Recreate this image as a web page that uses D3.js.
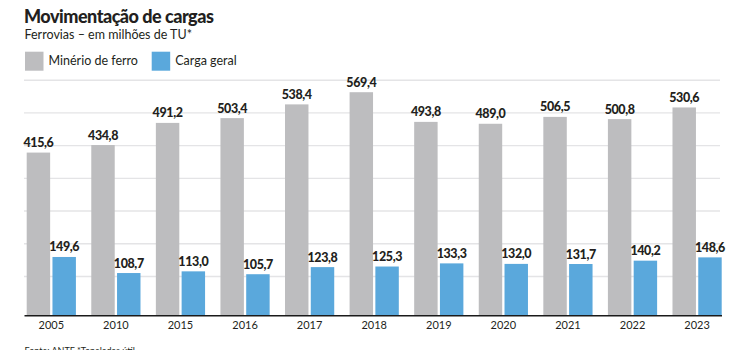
<!DOCTYPE html>
<html>
<head>
<meta charset="utf-8">
<script src="https://cdn.jsdelivr.net/npm/d3@7"></script>
<style>
  body { margin: 0; background: #fff; }
  svg { display: block; font-family: Lato, "Noto Sans", sans-serif; }
</style>
</head>
<body>
<div id="chart"></div>
<script>
// Dados (milhões de TU)
const anos = ["2005", "2010", "2015", "2016", "2017", "2018", "2019", "2020", "2021", "2022", "2023"];
const minerio = [415.6, 434.8, 491.2, 503.4, 538.4, 569.4, 493.8, 489.0, 506.5, 500.8, 530.6];
const cargaGeral = [149.6, 108.7, 113.0, 105.7, 123.8, 125.3, 133.3, 132.0, 131.7, 140.2, 148.6];
const series = ["Minério de ferro", "Carga geral"];
const gradeValores = [100, 183.3, 266.7, 350, 433.3, 516.7, 600];

const cores = { "Minério de ferro": "#bdbdbf", "Carga geral": "#5aa8dc" };
const texto = "#231f20";

const width = 750, height = 350;

const svg = d3.select("#chart")
  .append("svg")
  .attr("width", width)
  .attr("height", height);

// Tabela no formato longo
const dados = anos.map((ano, i) => ({
  ano: ano,
  valores: [
    { serie: series[0], valor: minerio[i] },
    { serie: series[1], valor: cargaGeral[i] }
  ]
}));

// Escalas
const x0 = d3.scaleBand()
  .domain(anos)
  .range([26.7, 721.7])
  .paddingInner(0.238)
  .paddingOuter(0);

const x1 = d3.scaleBand()
  .domain(series)
  .range([0, x0.bandwidth()])
  .paddingInner(0.09);

const y = d3.scaleLinear()
  .domain([0, 600])
  .range([315.7, 80.2]);

const br = d3.formatLocale({ decimal: ",", thousands: ".", grouping: [3], currency: ["R$", ""] });
const fmt = br.format(".1f");

// Título e subtítulo
svg.append("text")
  .attr("x", 24)
  .attr("y", 23)
  .style("font-size", "18px")
  .style("font-weight", 900)
  .style("letter-spacing", "-0.5px")
  .style("fill", texto)
  .text("Movimentação de cargas");

svg.append("text")
  .attr("x", 24.5)
  .attr("y", 38.5)
  .style("font-size", "12.5px")
  .style("fill", texto)
  .text("Ferrovias – em milhões de TU*");

// Legenda
const legendaX = [25, 151.7];
const legenda = svg.selectAll(".legenda")
  .data(series)
  .enter()
  .append("g")
  .attr("class", "legenda")
  .attr("transform", (d, i) => "translate(" + legendaX[i] + ",51.7)");

legenda.append("rect")
  .attr("width", 18.5)
  .attr("height", 19)
  .attr("fill", d => cores[d]);

legenda.append("text")
  .attr("x", 23.5)
  .attr("y", 13.5)
  .style("font-size", "12.5px")
  .style("fill", texto)
  .text(d => d);

// Linhas de grade
svg.append("g")
  .selectAll("line")
  .data(gradeValores)
  .enter()
  .append("line")
  .attr("x1", 24)
  .attr("x2", 720)
  .attr("y1", d => y(d))
  .attr("y2", d => y(d))
  .attr("stroke", "#e4e4e6")
  .attr("stroke-width", 1.4);

// Barras
const grupos = svg.append("g")
  .selectAll("g")
  .data(dados)
  .enter()
  .append("g")
  .attr("transform", d => "translate(" + x0(d.ano) + ",0)");

grupos.selectAll("rect")
  .data(d => d.valores)
  .enter()
  .append("rect")
  .attr("x", d => x1(d.serie))
  .attr("y", d => y(d.valor))
  .attr("width", x1.bandwidth())
  .attr("height", d => y(0) - y(d.valor))
  .attr("fill", d => cores[d.serie]);

// Rótulos de valor
grupos.selectAll("text")
  .data(d => d.valores)
  .enter()
  .append("text")
  .attr("x", d => x1(d.serie) + x1.bandwidth() / 2)
  .attr("y", d => y(d.valor) - 5.5)
  .attr("text-anchor", "middle")
  .style("font-size", "12.5px")
  .style("font-weight", 900)
  .style("letter-spacing", "-0.4px")
  .style("fill", texto)
  .text(d => fmt(d.valor));

// Eixo x
const eixo = svg.append("g")
  .attr("transform", "translate(0," + y(0) + ")")
  .call(d3.axisBottom(x0).tickSize(0).tickPadding(6));

eixo.select(".domain").remove();
eixo.selectAll("text")
  .style("font-family", "Lato, 'Noto Sans', sans-serif")
  .style("font-size", "11px")
  .style("fill", texto);

svg.append("line")
  .attr("x1", 24.5)
  .attr("x2", 722)
  .attr("y1", y(0))
  .attr("y2", y(0))
  .attr("stroke", "#1a1a1a")
  .attr("stroke-width", 1.6);

// Fonte
svg.append("text")
  .attr("x", 24.5)
  .attr("y", 354)
  .style("font-size", "9px")
  .style("fill", texto)
  .text("Fonte: ANTF *Toneladas útil");
</script>
</body>
</html>
